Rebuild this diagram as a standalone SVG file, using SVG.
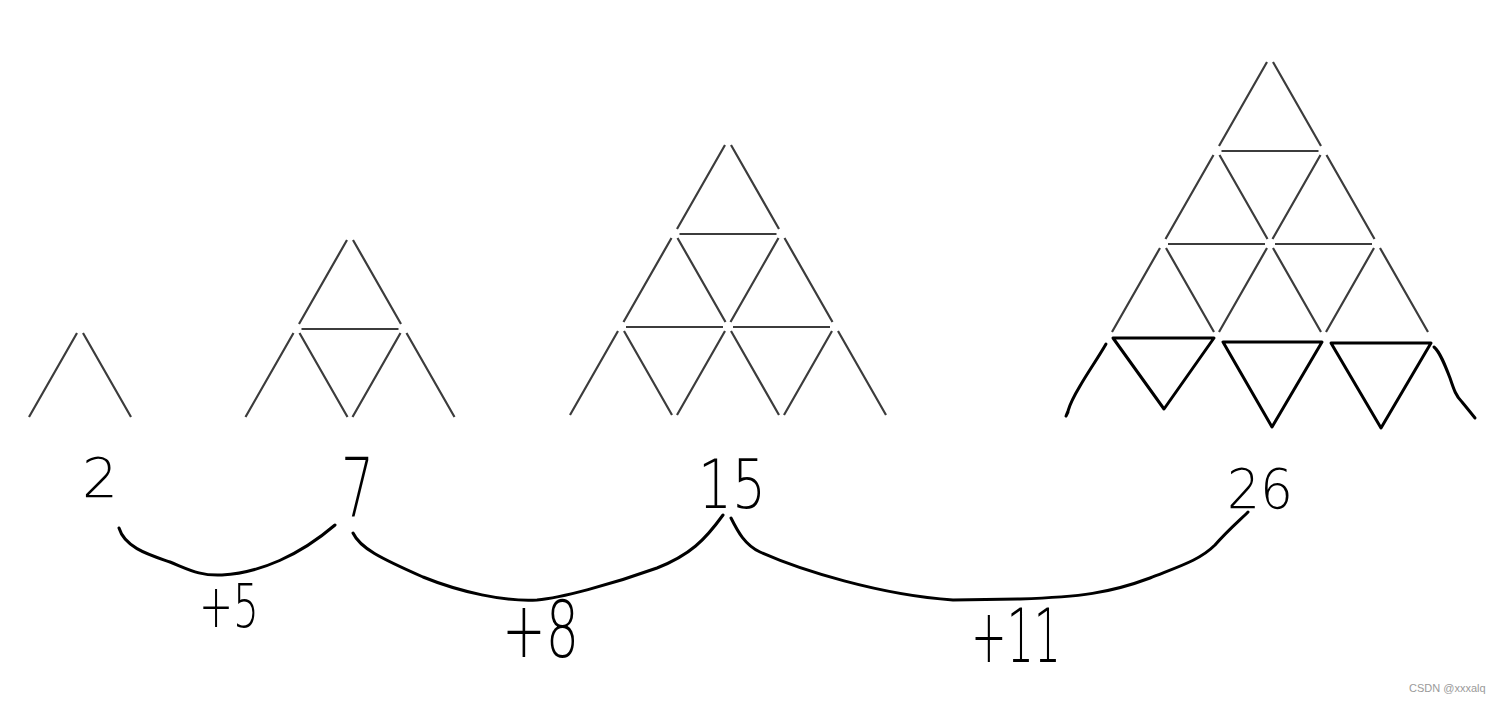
<svg xmlns="http://www.w3.org/2000/svg" width="1498" height="703" viewBox="0 0 1498 703">
<style>
.g{stroke:#3c3c3c;stroke-width:2.2;fill:none;stroke-linecap:butt}
.k{stroke:#000;stroke-width:3;fill:none;stroke-linecap:round;stroke-linejoin:round}
.n{font-family:"DejaVu Sans","Liberation Sans",sans-serif;font-weight:200;fill:#000}
.wm{font-family:"Liberation Sans",Arial,sans-serif;font-size:11px;fill:#9a9a9a}
</style>
<rect width="1498" height="703" fill="#fff"/>
<g id="fig1" class="g">
<path d="M77,333L29,417M83,333L131,417"/>
</g>
<g id="fig2" class="g">
<path d="M347,240L299,324M353,240L401,324"/>
<path d="M301.5,329H398.5"/>
<path d="M293.5,333L245.5,417M299.5,333L347.5,417M400.5,333L352.5,417M406.5,333L454.5,417"/>
</g>
<g id="fig3" class="g">
<path d="M725,145L677,229M731,145L779,229"/>
<path d="M679.5,234H776.5"/>
<path d="M671.5,238L623.5,322M677.5,238L725.5,322M778.5,238L730.5,322M784.5,238L832.5,322"/>
<path d="M626,327H723M733,327H830"/>
<path d="M618,331L570,415M624,331L672,415M725,331L677,415M731,331L779,415M832,331L784,415M838,331L886,415"/>
</g>
<g id="fig4">
<g class="g">
<path d="M1267,62L1219,146M1273,62L1321,146"/>
<path d="M1221.5,151H1318.5"/>
<path d="M1213.5,155L1165.5,239M1219.5,155L1267.5,239M1320.5,155L1272.5,239M1326.5,155L1374.5,239"/>
<path d="M1168,244H1265M1275,244H1372"/>
<path d="M1160,248L1112,332M1166,248L1214,332M1267,248L1219,332M1273,248L1321,332M1374,248L1326,332M1380,248L1428,332"/>
</g>
<g class="k">
<path d="M1113,338L1214,338L1164,409Z"/>
<path d="M1223,342L1322,342L1272,427Z"/>
<path d="M1331,343L1431,343L1381,428Z"/>
<path d="M1106,344C1098,358 1088,372 1080,386C1074,396 1070,404 1068,411L1066,416L1068,412"/>
<path d="M1434,347C1440,352 1445,365 1450,378C1454,390 1456,396 1462,402C1467,408 1471,413 1475,418"/>
</g>
</g>
<g id="numbers" class="n">
<text x="82" y="497" font-size="55" textLength="36" lengthAdjust="spacingAndGlyphs">2</text>
<text x="341" y="517" font-size="82" textLength="33" lengthAdjust="spacingAndGlyphs">7</text>
<text x="698" y="508" font-size="68" textLength="68" lengthAdjust="spacingAndGlyphs">15</text>
<text x="1227" y="508" font-size="56" textLength="66" lengthAdjust="spacingAndGlyphs">26</text>
</g>
<g id="connectors" class="k">
<path d="M119,528C125,548 150,555 170,562C190,570 200,576 222,575C260,573 300,555 335,525"/>
<path d="M353,533C360,548 380,558 423,577C460,592 505,602 537,600C560,598 610,585 657,568C690,555 705,540 723,515"/>
<path d="M731,518C738,532 745,545 760,552C800,570 880,595 953,600L1020,599C1080,597 1110,593 1150,578C1180,566 1200,560 1215,545C1228,530 1240,520 1248,512"/>
</g>
<g id="labels" class="n">
<text x="199" y="627" font-size="60" textLength="60" lengthAdjust="spacingAndGlyphs">+5</text>
<text x="502" y="657" font-size="78" textLength="77" lengthAdjust="spacingAndGlyphs">+8</text>
<text x="971" y="662" font-size="74" textLength="90" lengthAdjust="spacingAndGlyphs">+11</text>
</g>
<text class="wm" x="1409" y="692">CSDN @xxxalq</text>
</svg>
